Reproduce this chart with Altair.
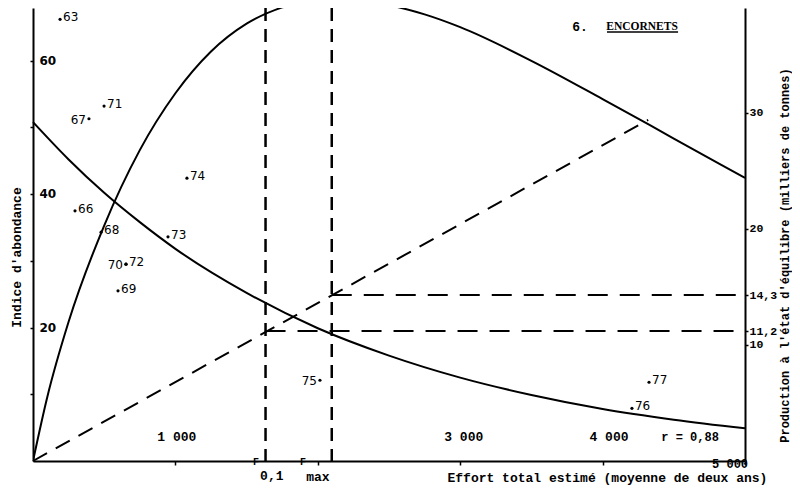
import json
import altair as alt
import pandas as pd

# ---------------- data ----------------
# Abundance index curve (left axis)
curve_effort = [0, 250, 500, 750, 1000, 1500, 2000, 2500, 3000, 3500, 4000, 4500, 5000]
curve_cpue = [50.8, 45.2, 40.2, 35.8, 31.8, 25.2, 19.9, 15.8, 12.5, 9.9, 7.8, 6.2, 4.9]

# Equilibrium production curve (right axis, thousand tonnes)
yield_effort = [0, 100, 250, 500, 750, 1000, 1250, 1500, 1750, 2000, 2137, 2250,
                2500, 2750, 3000, 3500, 4000, 4500, 5000]
yield_prod = [0, 5.5, 12.0, 20.3, 26.8, 31.7, 35.3, 37.7, 39.1, 39.8, 39.9, 39.8,
              39.3, 38.5, 37.4, 34.5, 31.2, 27.8, 24.4]

# Yearly observations (effort, abundance index)
years = ["63", "66", "67", "68", "69", "70", "71", "72", "73", "74", "75", "76", "77"]
obs_effort = [190, 295, 393, 478, 597, 653, 499, 653, 948, 1081, 2015, 4206, 4326]
obs_cpue = [66.2, 37.5, 51.3, 34.3, 25.5, 29.5, 53.2, 29.5, 33.6, 42.4, 12.1, 7.9, 11.8]
left_label_years = ["67", "70", "75"]

# Reference efforts F0.1 and Fmax and their productions
f_effort = [1633, 2098]
f_prod = [11.2, 14.3]
axis_end_effort = [5000, 5000]

# Dashed line from the origin
diag_effort = [0, 4320]
diag_prod = [0, 29.4]

# Axis tick values
left_ticks = [10, 20, 30, 40, 50, 60]
left_tick_labels = ["20", "40", "60"]
left_tick_values = [20, 40, 60]
right_ticks = [10, 11.2, 14.3, 20, 30]
x_ticks = [1000, 2000, 3000, 4000, 5000]
x_label_text = ["1 000", "3 000", "4 000", "5 000"]
x_label_effort = [1010, 3025, 4045, 4895]
x_label_cpue = [3.6, 3.6, 3.6, -0.4]

# Annotations
f_letter_effort = [1566, 1896]
f_sub_text = ["0,1", "max"]
f_sub_effort = [1677, 2001]

MONO = "Liberation Mono"

xs = alt.Scale(domain=[0, 5000], nice=False, zero=False)
yl = alt.Scale(domain=[0, 67.9], nice=False, zero=False)
yr = alt.Scale(domain=[0, 39.05], nice=False, zero=False)

x_axis = alt.Axis(values=x_ticks, labels=False, ticks=True, tickSize=4, tickWidth=1.5,
                  tickColor="black", domainWidth=2, domainColor="black", grid=False,
                  title="Effort total estimé (moyenne de deux ans)", titleFont=MONO,
                  titleFontSize=13, titleFontWeight="bold", titleColor="black",
                  titleAlign="left", titleAnchor="start", titleX=414, titleY=16,
                  titleBaseline="middle")

yl_axis = alt.Axis(values=left_ticks, labels=False, tickSize=3, tickWidth=1.5,
                   tickColor="black", domainWidth=2, domainColor="black", grid=False,
                   title="Indice d'abondance", titleFont=MONO, titleFontSize=13,
                   titleFontWeight="bold", titleColor="black", titleAngle=270,
                   titleX=-17, titleY=249, titleAlign="center", titleBaseline="middle")

yr_axis = alt.Axis(orient="right", values=right_ticks,
                   labelExpr="datum.value == 14.3 ? '14,3' : datum.value == 11.2 ? '11,2' : datum.label",
                   tickSize=3, tickWidth=1.5, tickColor="black", labelPadding=1,
                   labelFont=MONO, labelFontSize=11.5, labelFontWeight="bold",
                   labelColor="black", domainWidth=2, domainColor="black", grid=False,
                   title="Production à l'état d'équilibre (milliers de tonnes)",
                   titleFont=MONO, titleFontSize=12, titleFontWeight="bold",
                   titleColor="black", titleAngle=270, titleX=39, titleY=247,
                   titleAlign="center", titleBaseline="middle")


def X(field="effort"):
    return alt.X(f"{field}:Q", scale=xs, axis=x_axis)


def YL(field="cpue"):
    return alt.Y(f"{field}:Q", scale=yl, axis=yl_axis)


def YR(field="prod"):
    return alt.Y(f"{field}:Q", scale=yr, axis=yr_axis)


cpue_df = pd.DataFrame({"effort": curve_effort, "cpue": curve_cpue})
yield_df = pd.DataFrame({"effort": yield_effort, "prod": yield_prod})
obs_df = pd.DataFrame({"year": years, "effort": obs_effort, "cpue": obs_cpue})
f_df = pd.DataFrame({"effort": f_effort, "prod": f_prod, "end": axis_end_effort})
diag_df = pd.DataFrame({"effort": diag_effort, "prod": diag_prod})
lt_df = pd.DataFrame({"txt": left_tick_labels, "cpue": left_tick_values, "effort": [45] * 3})
xl_df = pd.DataFrame({"txt": x_label_text, "effort": x_label_effort, "cpue": x_label_cpue,
                      "size": [13, 13, 13, 12]})
fl_df = pd.DataFrame({"effort": f_letter_effort, "cpue": [-0.2, -0.2], "txt": ["F", "F"]})
fs_df = pd.DataFrame({"effort": f_sub_effort, "cpue": [-2.3, -2.4], "txt": f_sub_text})
title_df = pd.DataFrame({"effort": [3841], "cpue": [65.1], "txt": ["6."]})
name_df = pd.DataFrame({"effort": [4277], "cpue": [65.0], "txt": ["ENCORNETS"]})
under_df = pd.DataFrame({"effort": [4031], "end": [4530], "cpue": [64.3]})
r_df = pd.DataFrame({"effort": [4614], "cpue": [3.6], "txt": ["r = 0,88"]})

left_json = json.dumps(left_label_years)

cpue_line = alt.Chart(cpue_df).mark_line(color="black", strokeWidth=2, interpolate="monotone").encode(
    x=X(), y=YL())
dots = alt.Chart(obs_df).mark_circle(color="black", size=10, opacity=1).encode(x=X(), y=YL())
lab_r = alt.Chart(obs_df).transform_filter(f"indexof({left_json}, datum.year) < 0").mark_text(
    align="left", baseline="middle", dx=3, dy=-2, font="DejaVu Sans", fontSize=12, color="black"
).encode(x=X(), y=YL(), text="year:N")
lab_l = alt.Chart(obs_df).transform_filter(f"indexof({left_json}, datum.year) >= 0").mark_text(
    align="right", baseline="middle", dx=-3, dy=1, font="DejaVu Sans", fontSize=12, color="black"
).encode(x=X(), y=YL(), text="year:N")
f_rules = alt.Chart(f_df).mark_rule(color="black", strokeWidth=2.5, strokeDash=[13, 8]).encode(x=X())
lt_text = alt.Chart(lt_df).mark_text(align="left", baseline="middle", font="DejaVu Sans",
                                     fontSize=12, fontWeight="bold", color="black").encode(
    x=X(), y=YL(), text="txt:N")
xl_text = alt.Chart(xl_df).mark_text(align="center", baseline="middle", font=MONO,
                                     fontWeight="bold", color="black").encode(
    x=X(), y=YL(), text="txt:N", size=alt.Size("size:Q", scale=None, legend=None))
fl_text = alt.Chart(fl_df).mark_text(align="center", baseline="middle", font=MONO,
                                     fontSize=10, fontWeight="bold", color="black").encode(
    x=X(), y=YL(), text="txt:N")
fs_text = alt.Chart(fs_df).mark_text(align="center", baseline="middle", font=MONO,
                                     fontSize=13, fontWeight="bold", color="black").encode(
    x=X(), y=YL(), text="txt:N")
title_text = alt.Chart(title_df).mark_text(align="center", baseline="middle", font=MONO,
                                           fontSize=13, fontWeight="bold", color="black").encode(
    x=X(), y=YL(), text="txt:N")
name_text = alt.Chart(name_df).mark_text(align="center", baseline="middle", font="Liberation Serif",
                                         fontSize=11.5, fontWeight="bold", color="black").encode(
    x=X(), y=YL(), text="txt:N")
under_rule = alt.Chart(under_df).mark_rule(color="black", strokeWidth=1.5).encode(
    x=X(), x2="end:Q", y=YL())
r_text = alt.Chart(r_df).mark_text(align="center", baseline="middle", font=MONO,
                                   fontSize=12, fontWeight="bold", color="black").encode(
    x=X(), y=YL(), text="txt:N")

left_group = alt.layer(cpue_line, f_rules, dots, lab_r, lab_l, lt_text, xl_text, fl_text,
                       fs_text, title_text, name_text, under_rule, r_text)

yield_line = alt.Chart(yield_df).mark_line(color="black", strokeWidth=2, interpolate="monotone",
                                           clip=True).encode(x=X(), y=YR())
diag_line = alt.Chart(diag_df).mark_line(color="black", strokeWidth=2, strokeDash=[16, 10]).encode(
    x=X(), y=YR())
h_rules = alt.Chart(f_df).mark_rule(color="black", strokeWidth=2, strokeDash=[20, 12]).encode(
    x=X(), x2="end:Q", y=YR())

right_group = alt.layer(yield_line, diag_line, h_rules)

chart = alt.layer(left_group, right_group).resolve_scale(y="independent").properties(
    width=712, height=453,
    autosize=alt.AutoSizeParams(type="none"),
    padding={"left": 25, "top": 0, "right": 47, "bottom": 26},
    background="white",
).configure_view(stroke=None)

chart.save("out.html", embed_options={"renderer": "svg", "actions": False})
